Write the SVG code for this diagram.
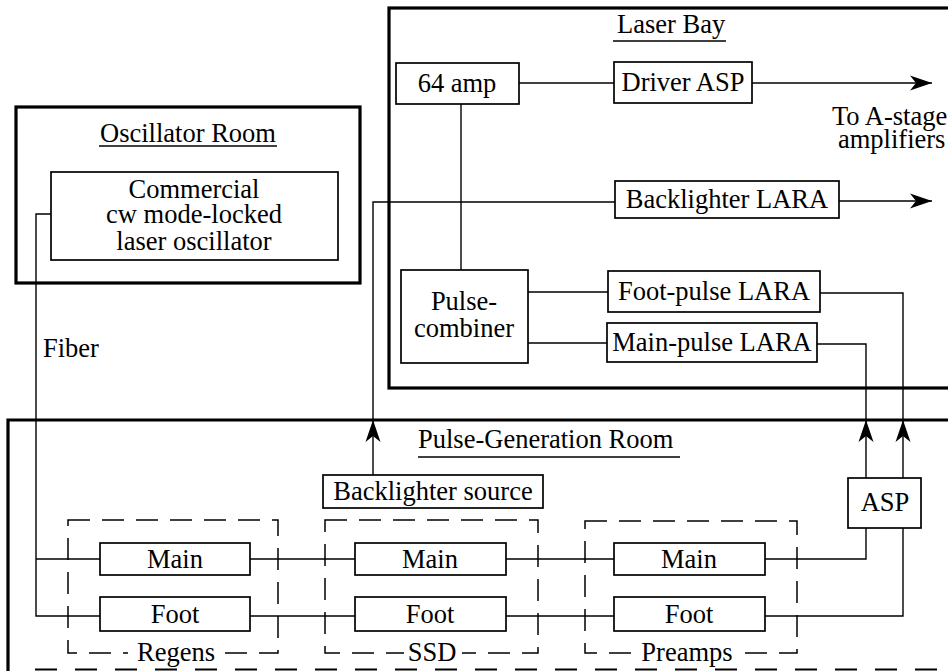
<svg xmlns="http://www.w3.org/2000/svg" width="948" height="671" viewBox="0 0 948 671">
<style>
text{font-family:'Liberation Serif','Times New Roman',serif;font-size:26.5px;fill:#000}
.c{text-anchor:middle}
.room{fill:none;stroke:#000;stroke-width:3.2}
.box{fill:#fff;stroke:#000;stroke-width:1.7}
.grp{fill:none;stroke:#000;stroke-width:1.5;stroke-dasharray:22 12}
.ln{fill:none;stroke:#000;stroke-width:1.4}
.ul{stroke:#000;stroke-width:1.5}
</style>
<defs>
<marker id="ah" markerUnits="userSpaceOnUse" markerWidth="24" markerHeight="18" viewBox="-23 -9 24 18" refX="0" refY="0" orient="auto">
<path d="M0,0 L-22,-7.5 L-16,0 L-22,7.5 Z" fill="#000"/>
</marker>
</defs>
<rect width="948" height="671" fill="#fff"/>
<g id="oscillator-room">
<rect class="room" x="16" y="107" width="344" height="176"/>
<text class="c" x="188" y="142">Oscillator Room</text>
<line class="ul" x1="99" y1="146" x2="277" y2="146"/>
</g>
<g id="laser-bay">
<rect class="room" x="389" y="8" width="600" height="380"/>
<text x="617" y="33">Laser Bay</text>
<line class="ul" x1="613" y1="41" x2="726" y2="41"/>
</g>
<g id="pulse-generation-room">
<path class="room" d="M8,671 V420 H960"/>
<line x1="35" y1="669.5" x2="948" y2="669.5" stroke="#000" stroke-width="2" stroke-dasharray="22 18"/>
<text x="418" y="448">Pulse-Generation Room</text>
<line class="ul" x1="418" y1="457" x2="680" y2="457"/>
</g>
<g id="connectors">
<path class="ln" d="M51,214 H36 V616 H100"/>
<path class="ln" d="M36,559 H100"/>
<path class="ln" d="M250,559 H355 M250,616 H355"/>
<path class="ln" d="M506,559 H614 M506,616 H614"/>
<path class="ln" d="M765,559 H866 V528 M765,616 H903 V528"/>
<path class="ln" d="M866,478 V420" marker-end="url(#ah)"/>
<path class="ln" d="M866,420 V344 H817"/>
<path class="ln" d="M903,478 V420" marker-end="url(#ah)"/>
<path class="ln" d="M903,420 V293 H820"/>
<path class="ln" d="M373,475 V420" marker-end="url(#ah)"/>
<path class="ln" d="M373,420 V202 H615"/>
<path class="ln" d="M839,201 H932" marker-end="url(#ah)"/>
<path class="ln" d="M752,83 H932" marker-end="url(#ah)"/>
<path class="ln" d="M519,83 H614"/>
<path class="ln" d="M461,104 V270"/>
<path class="ln" d="M528,292 H608 M528,343 H607"/>
</g>
<g id="oscillator">
<rect class="box" x="51" y="172" width="287" height="88"/>
<text class="c" x="194" y="198">Commercial</text>
<text class="c" x="194" y="223">cw mode-locked</text>
<text class="c" x="194" y="250">laser oscillator</text>
</g>
<text x="43" y="357">Fiber</text>
<g id="amp64">
<rect class="box" x="396" y="63" width="123" height="41"/>
<text class="c" x="457" y="92">64 amp</text>
</g>
<g id="driver-asp">
<rect class="box" x="614" y="62" width="138" height="41"/>
<text class="c" x="683" y="91">Driver ASP</text>
</g>
<g id="to-a-stage">
<text x="832" y="125">To A-stage</text>
<text x="838" y="148">amplifiers</text>
</g>
<g id="backlighter-lara">
<rect class="box" x="615" y="181" width="224" height="37"/>
<text class="c" x="727" y="208">Backlighter LARA</text>
</g>
<g id="pulse-combiner">
<rect class="box" x="401" y="270" width="127" height="93"/>
<text class="c" x="464" y="310">Pulse-</text>
<text class="c" x="464" y="337">combiner</text>
</g>
<g id="foot-pulse-lara">
<rect class="box" x="608" y="271" width="212" height="41"/>
<text class="c" x="714" y="300">Foot-pulse LARA</text>
</g>
<g id="main-pulse-lara">
<rect class="box" x="607" y="323" width="210" height="39"/>
<text class="c" x="712" y="351">Main-pulse LARA</text>
</g>
<g id="backlighter-source">
<rect class="box" x="323" y="475" width="220" height="33"/>
<text class="c" x="433" y="500">Backlighter source</text>
</g>
<g id="asp">
<rect class="box" x="848" y="478" width="73" height="50"/>
<text class="c" x="885" y="511">ASP</text>
</g>
<g id="regens">
<rect class="grp" x="68" y="520" width="210" height="133"/>
<rect x="128" y="645" width="96" height="16" fill="#fff"/>
<text class="c" x="176" y="661">Regens</text>
<rect class="box" x="100" y="543" width="150" height="32"/>
<text class="c" x="175" y="568">Main</text>
<rect class="box" x="100" y="597" width="150" height="34"/>
<text class="c" x="175" y="623">Foot</text>
</g>
<g id="ssd">
<rect class="grp" x="325" y="520" width="213" height="133"/>
<rect x="404" y="645" width="58" height="16" fill="#fff"/>
<text class="c" x="432" y="661">SSD</text>
<rect class="box" x="355" y="543" width="151" height="32"/>
<text class="c" x="430" y="568">Main</text>
<rect class="box" x="355" y="597" width="151" height="34"/>
<text class="c" x="430" y="623">Foot</text>
</g>
<g id="preamps">
<rect class="grp" x="585" y="521" width="212" height="132"/>
<rect x="640" y="645" width="94" height="16" fill="#fff"/>
<text class="c" x="687" y="661">Preamps</text>
<rect class="box" x="614" y="543" width="151" height="32"/>
<text class="c" x="689" y="568">Main</text>
<rect class="box" x="614" y="597" width="151" height="34"/>
<text class="c" x="689" y="623">Foot</text>
</g>
</svg>
